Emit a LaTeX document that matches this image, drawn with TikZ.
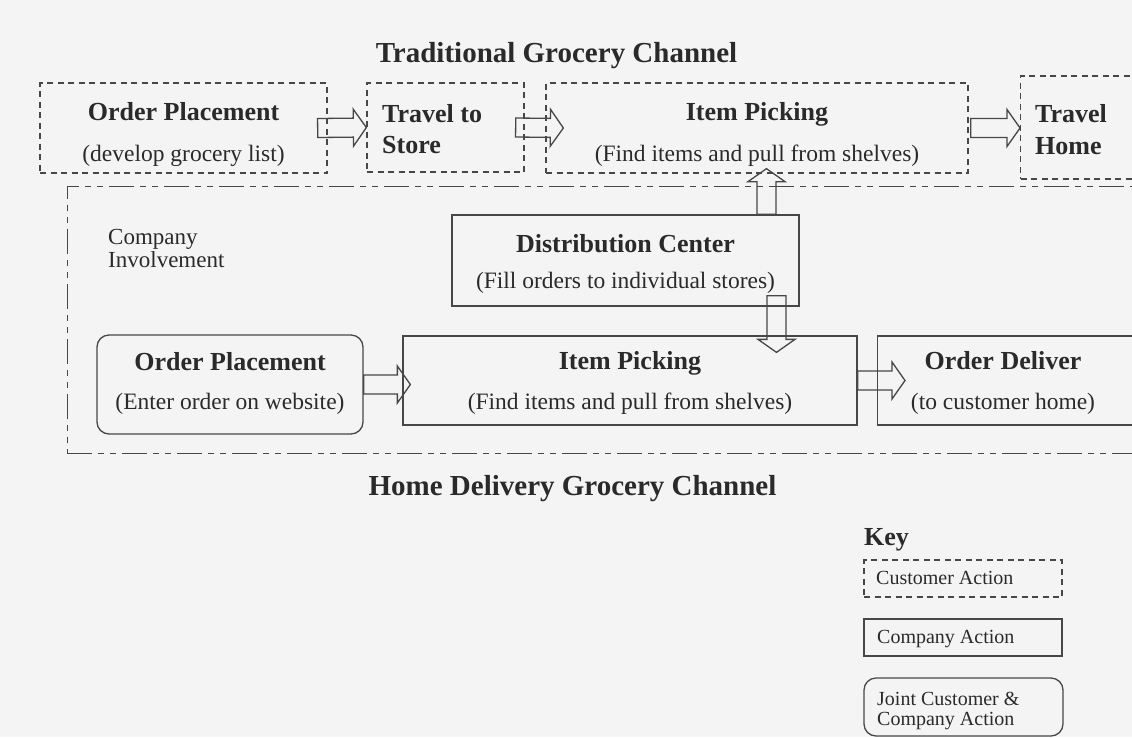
\documentclass[tikz,border=0pt]{standalone}
\usepackage{fontspec}
\setmainfont{Liberation Serif}
\usetikzlibrary{calc}
\definecolor{bg}{HTML}{F4F4F4}
\definecolor{ink}{HTML}{2A2A2A}
\definecolor{linec}{HTML}{474747}
\tikzset{
 custbox/.style={draw=linec, line width=1.3pt, dash pattern=on 6pt off 4.5pt, rectangle, inner sep=0pt},
 compbox/.style={draw=linec, line width=1.3pt, rectangle, inner sep=0pt},
 jointbox/.style={compbox, rounded corners=12pt},
 involve/.style={draw=linec, line width=1.3pt, rectangle, inner sep=0pt, dash pattern=on 25pt off 6pt on 6pt off 6pt on 6pt off 6pt},
 hd/.style={font=\fontsize{26}{30}\selectfont\bfseries, text=ink, anchor=base, inner sep=0pt},
 sub/.style={font=\fontsize{23.5}{28}\selectfont, text=ink, anchor=base, inner sep=0pt},
 ttl/.style={font=\fontsize{29}{34}\selectfont\bfseries, text=ink, anchor=base, inner sep=0pt},
 invt/.style={font=\fontsize{23}{26}\selectfont, text=ink, anchor=base west, inner sep=0pt},
 keyt/.style={font=\fontsize{20}{20}\selectfont, text=ink, anchor=base west, inner sep=0pt},
 barrow/.style={draw=linec, line width=1.3pt, line join=miter},
}
\newcommand\blockarrow[2]{%
  \coordinate (hb) at ($(#2)!13pt!(#1)$);
  \draw[barrow] ($(#1)!9.5pt!90:(#2)$) -- ($(hb)!9.5pt!-90:(#1)$) -- ($(hb)!18.5pt!-90:(#1)$) -- (#2)
     -- ($(hb)!18.5pt!90:(#1)$) -- ($(hb)!9.5pt!90:(#1)$) -- ($(#1)!9.5pt!-90:(#2)$) -- cycle;}
\begin{document}
\begin{tikzpicture}[x=1pt,y=-1pt]
\useasboundingbox (0,0) rectangle (1132,737);
\clip (0,0) rectangle (1132,737);
\fill[bg] (0,0) rectangle (1132,737);

% titles
\node[ttl] (t1) at (556.5,62) {Traditional Grocery Channel};
\node[ttl] (t2) at (572.5,495) {Home Delivery Grocery Channel};

% company involvement region
\node[involve, minimum width=1110pt, minimum height=267pt, anchor=north west] (ci) at (66.5,185.5) {};
\node[invt] (ci1) at (108,244) {Company};
\node[invt] (ci2) at (108,267) {Involvement};

% traditional channel
\node[custbox, minimum width=287pt, minimum height=90pt] (op1) at (183.5,128) {};
\node[hd] (op1h) at (183.5,120) {Order Placement};
\node[sub] (op1s) at (183.5,161) {(develop grocery list)};

\node[custbox, minimum width=157pt, minimum height=89pt] (ts) at (445.5,127.5) {};
\node[hd, anchor=base west] (tsh) at (382,122) {Travel to};
\node[hd, anchor=base west] (tss) at (382,153) {Store};

\node[custbox, minimum width=422pt, minimum height=90pt] (ip1) at (757,128) {};
\node[hd] (ip1h) at (757,120) {Item Picking};
\node[sub] (ip1s) at (757,161) {(Find items and pull from shelves)};

\node[custbox, minimum width=150pt, minimum height=103pt, anchor=west] (th) at (1020,127.5) {};
\node[hd, anchor=base west] (thh) at (1035,122) {Travel};
\node[hd, anchor=base west] (ths) at (1035,154) {Home};

% distribution center
\node[compbox, minimum width=347pt, minimum height=91pt] (dc) at (625.5,260.5) {};
\node[hd] (dch) at (625.5,252.5) {Distribution Center};
\node[sub] (dcs) at (625.5,288) {(Fill orders to individual stores)};

% home delivery channel
\node[jointbox, minimum width=266pt, minimum height=99pt] (op2) at (230,384.5) {};
\node[hd] (op2h) at (230,370) {Order Placement};
\node[sub] (op2s) at (230,409.5) {(Enter order on website)};

\node[compbox, minimum width=454pt, minimum height=89pt] (ip2) at (630,380.5) {};
\node[hd] (ip2h) at (630,369.5) {Item Picking};
\node[sub] (ip2s) at (630,409) {(Find items and pull from shelves)};

\node[compbox, minimum width=293pt, minimum height=89pt, anchor=west] (od) at (877,380.5) {};
\node[hd] (odh) at (1003,369.5) {Order Deliver};
\node[sub] (ods) at (1003,409) {(to customer home)};

% arrows
\coordinate (a1s) at ($(op1.east)+(-10,0)$);
\coordinate (a1e) at (ts.west);
\blockarrow{a1s}{a1e}
\coordinate (a2s) at ($(ts.east)+(-9,0)$);
\coordinate (a2e) at ($(ip1.west)+(18,0)$);
\blockarrow{a2s}{a2e}
\coordinate (a3s) at ($(ip1.east)+(2,0)$);
\coordinate (a3e) at (ip1.east -| th.west);
\blockarrow{a3s}{a3e}
\coordinate (a4s) at ($(dc.north)+(141,0)$);
\coordinate (a4e) at ($(ip1.south)+(9.5,-5)$);
\blockarrow{a4s}{a4e}
\coordinate (a5s) at ($(dc.south)+(151,-11)$);
\coordinate (a5e) at ($(ip2.north)+(146.5,17)$);
\blockarrow{a5s}{a5e}
\coordinate (a6s) at (op2.east);
\coordinate (a6e) at ($(op2.east -| ip2.west)+(8,0)$);
\blockarrow{a6s}{a6e}
\coordinate (a7s) at (ip2.east);
\coordinate (a7e) at ($(ip2.east -| od.west)+(28,0)$);
\blockarrow{a7s}{a7e}

% key
\node[font=\fontsize{26}{30}\selectfont\bfseries, text=ink, anchor=base west, inner sep=0pt] (key) at (864,545) {Key};
\node[custbox, minimum width=198pt, minimum height=37pt] (k1) at (963,578.5) {};
\node[keyt] (k1t) at (876,584) {Customer Action};
\node[compbox, minimum width=198pt, minimum height=37pt] (k2) at (963,637.5) {};
\node[keyt] (k2t) at (877,643) {Company Action};
\node[jointbox, minimum width=199pt, minimum height=58pt] (k3) at (963.5,707) {};
\node[keyt] (k3a) at (877,705.5) {Joint Customer \&};
\node[keyt] (k3b) at (877,725) {Company Action};
\end{tikzpicture}
\end{document}
